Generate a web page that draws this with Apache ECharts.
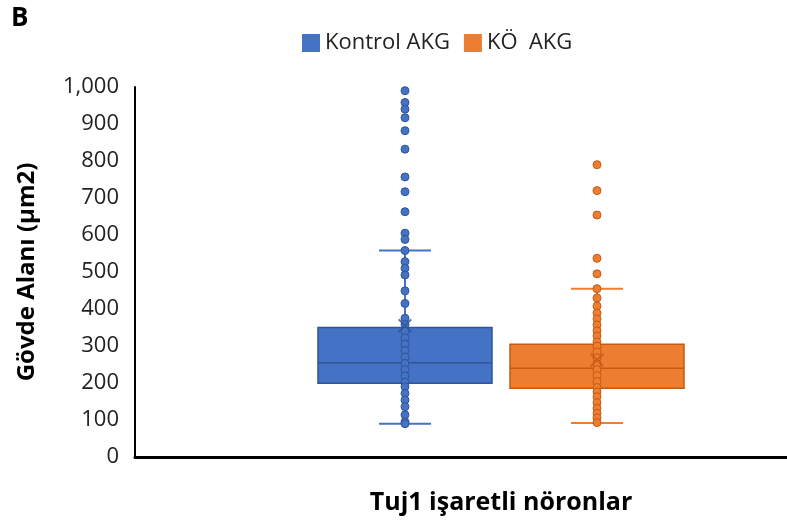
<!DOCTYPE html>
<html>
<head>
<meta charset="utf-8">
<script src="https://cdn.jsdelivr.net/npm/echarts@6/dist/echarts.min.js"></script>
<style>
  html, body { margin: 0; padding: 0; background: #fff; }
  #chart { width: 787px; height: 524px; }
</style>
</head>
<body>
<div id="chart"></div>
<script>
// groups
var categories = ['Kontrol AKG', 'KÖ  AKG'];
// [min, Q1, median, Q3, max]
var kontrolBox = [90, 199, 255, 350, 558];
var koBox = [92, 186, 240, 305, 455];
var means = [355, 262];
// single neuron values
var kontrolPoints = [990, 958, 940, 917, 882, 832, 757, 717, 663, 605, 588, 558, 528, 510, 492, 449, 415, 375,
  358, 340, 322, 305, 288, 270, 253, 236, 219, 202, 190, 172, 154, 136, 114, 95, 90];
var koPoints = [790, 720, 654, 537, 495, 455, 430, 408, 389, 373, 357, 341, 327, 311,
  300, 284, 268, 252, 236, 220, 204, 188, 176, 163, 147, 132, 118, 106, 93];

var fills = ['#4472C4', '#ED7D31'];
var borders = ['#2F5597', '#C55A11'];
var font = 'Open Sans';

var chart = echarts.init(document.getElementById('chart'));

var boxes = [kontrolBox, koBox];
// narrow whiskers: min..max with flat box at median
var whiskerData = boxes.map(function (b, i) {
  return { value: [b[0], b[2], b[2], b[2], b[4]], itemStyle: { color: fills[i], borderColor: fills[i] } };
});
// wide box: Q1..Q3
var boxData = boxes.map(function (b, i) {
  return { value: [b[1], b[1], b[2], b[3], b[3]], itemStyle: { color: fills[i], borderColor: borders[i] } };
});

var option = {
  animation: false,
  textStyle: { fontFamily: font },
  title: {
    text: 'B', left: 6, top: 1,
    textStyle: { fontFamily: font, fontWeight: 'bold', fontSize: 26, color: '#000' }
  },
  legend: {
    left: 297, top: 27,
    itemWidth: 18, itemHeight: 18, itemGap: 14,
    itemStyle: { borderWidth: 0 },
    data: [{ name: categories[0], icon: 'rect' }, { name: categories[1], icon: 'rect' }],
    textStyle: { fontFamily: font, fontSize: 22, color: '#222' }
  },
  grid: [
    { left: 135, right: 0, top: 87, bottom: 67, outerBoundsMode: 'none' },
    { left: 309, width: 384, top: 87, bottom: 67, outerBoundsMode: 'none' }
  ],
  xAxis: [
    {
      gridIndex: 0, type: 'category', data: [''],
      axisLine: { lineStyle: { color: '#000', width: 3 } },
      axisTick: { show: false }, axisLabel: { show: false }
    },
    {
      gridIndex: 1, type: 'category', data: categories,
      name: 'Tuj1 işaretli nöronlar', nameLocation: 'middle', nameGap: 33,
      nameTextStyle: { fontFamily: font, fontWeight: 'bold', fontSize: 25, color: '#000' },
      axisLine: { show: false }, axisTick: { show: false }, axisLabel: { show: false }
    },
    {
      gridIndex: 1, type: 'category', data: categories, show: false
    }
  ],
  yAxis: [
    {
      gridIndex: 0, type: 'value', min: 0, max: 1000, interval: 100,
      name: 'Gövde Alanı (μm2)', nameLocation: 'middle', nameGap: 96,
      nameTextStyle: { fontFamily: font, fontWeight: 'bold', fontSize: 24, color: '#000' },
      axisLine: { show: true, lineStyle: { color: '#000', width: 2 } },
      axisTick: { show: false },
      splitLine: { show: false },
      axisLabel: {
        margin: 16, fontFamily: font, fontSize: 22, color: '#222',
        formatter: function (v) { return v.toLocaleString('en-US'); }
      }
    },
    { gridIndex: 1, type: 'value', min: 0, max: 1000, interval: 100, show: false }
  ],
  series: [
    {
      type: 'boxplot', xAxisIndex: 1, yAxisIndex: 1,
      boxWidth: [52, 52],
      itemStyle: { borderWidth: 2 },
      data: whiskerData
    },
    {
      type: 'boxplot', xAxisIndex: 2, yAxisIndex: 1,
      boxWidth: [174, 174],
      itemStyle: { borderWidth: 1.5 },
      data: boxData
    },
    {
      name: categories[0], type: 'scatter', xAxisIndex: 1, yAxisIndex: 1,
      symbolSize: 8,
      itemStyle: { color: fills[0], borderColor: borders[0], borderWidth: 1, opacity: 1 },
      data: kontrolPoints.map(function (v) { return [categories[0], v]; })
    },
    {
      name: categories[1], type: 'scatter', xAxisIndex: 1, yAxisIndex: 1,
      symbolSize: 8,
      itemStyle: { color: fills[1], borderColor: borders[1], borderWidth: 1, opacity: 1 },
      data: koPoints.map(function (v) { return [categories[1], v]; })
    },
    {
      type: 'scatter', xAxisIndex: 1, yAxisIndex: 1,
      symbol: 'path://M0,1L1,0L5,4L9,0L10,1L6,5L10,9L9,10L5,6L1,10L0,9L4,5Z',
      symbolSize: 14,
      data: means.map(function (m, i) {
        return { value: [categories[i], m], itemStyle: { color: borders[i] } };
      })
    }
  ]
};

chart.setOption(option);
</script>
</body>
</html>
